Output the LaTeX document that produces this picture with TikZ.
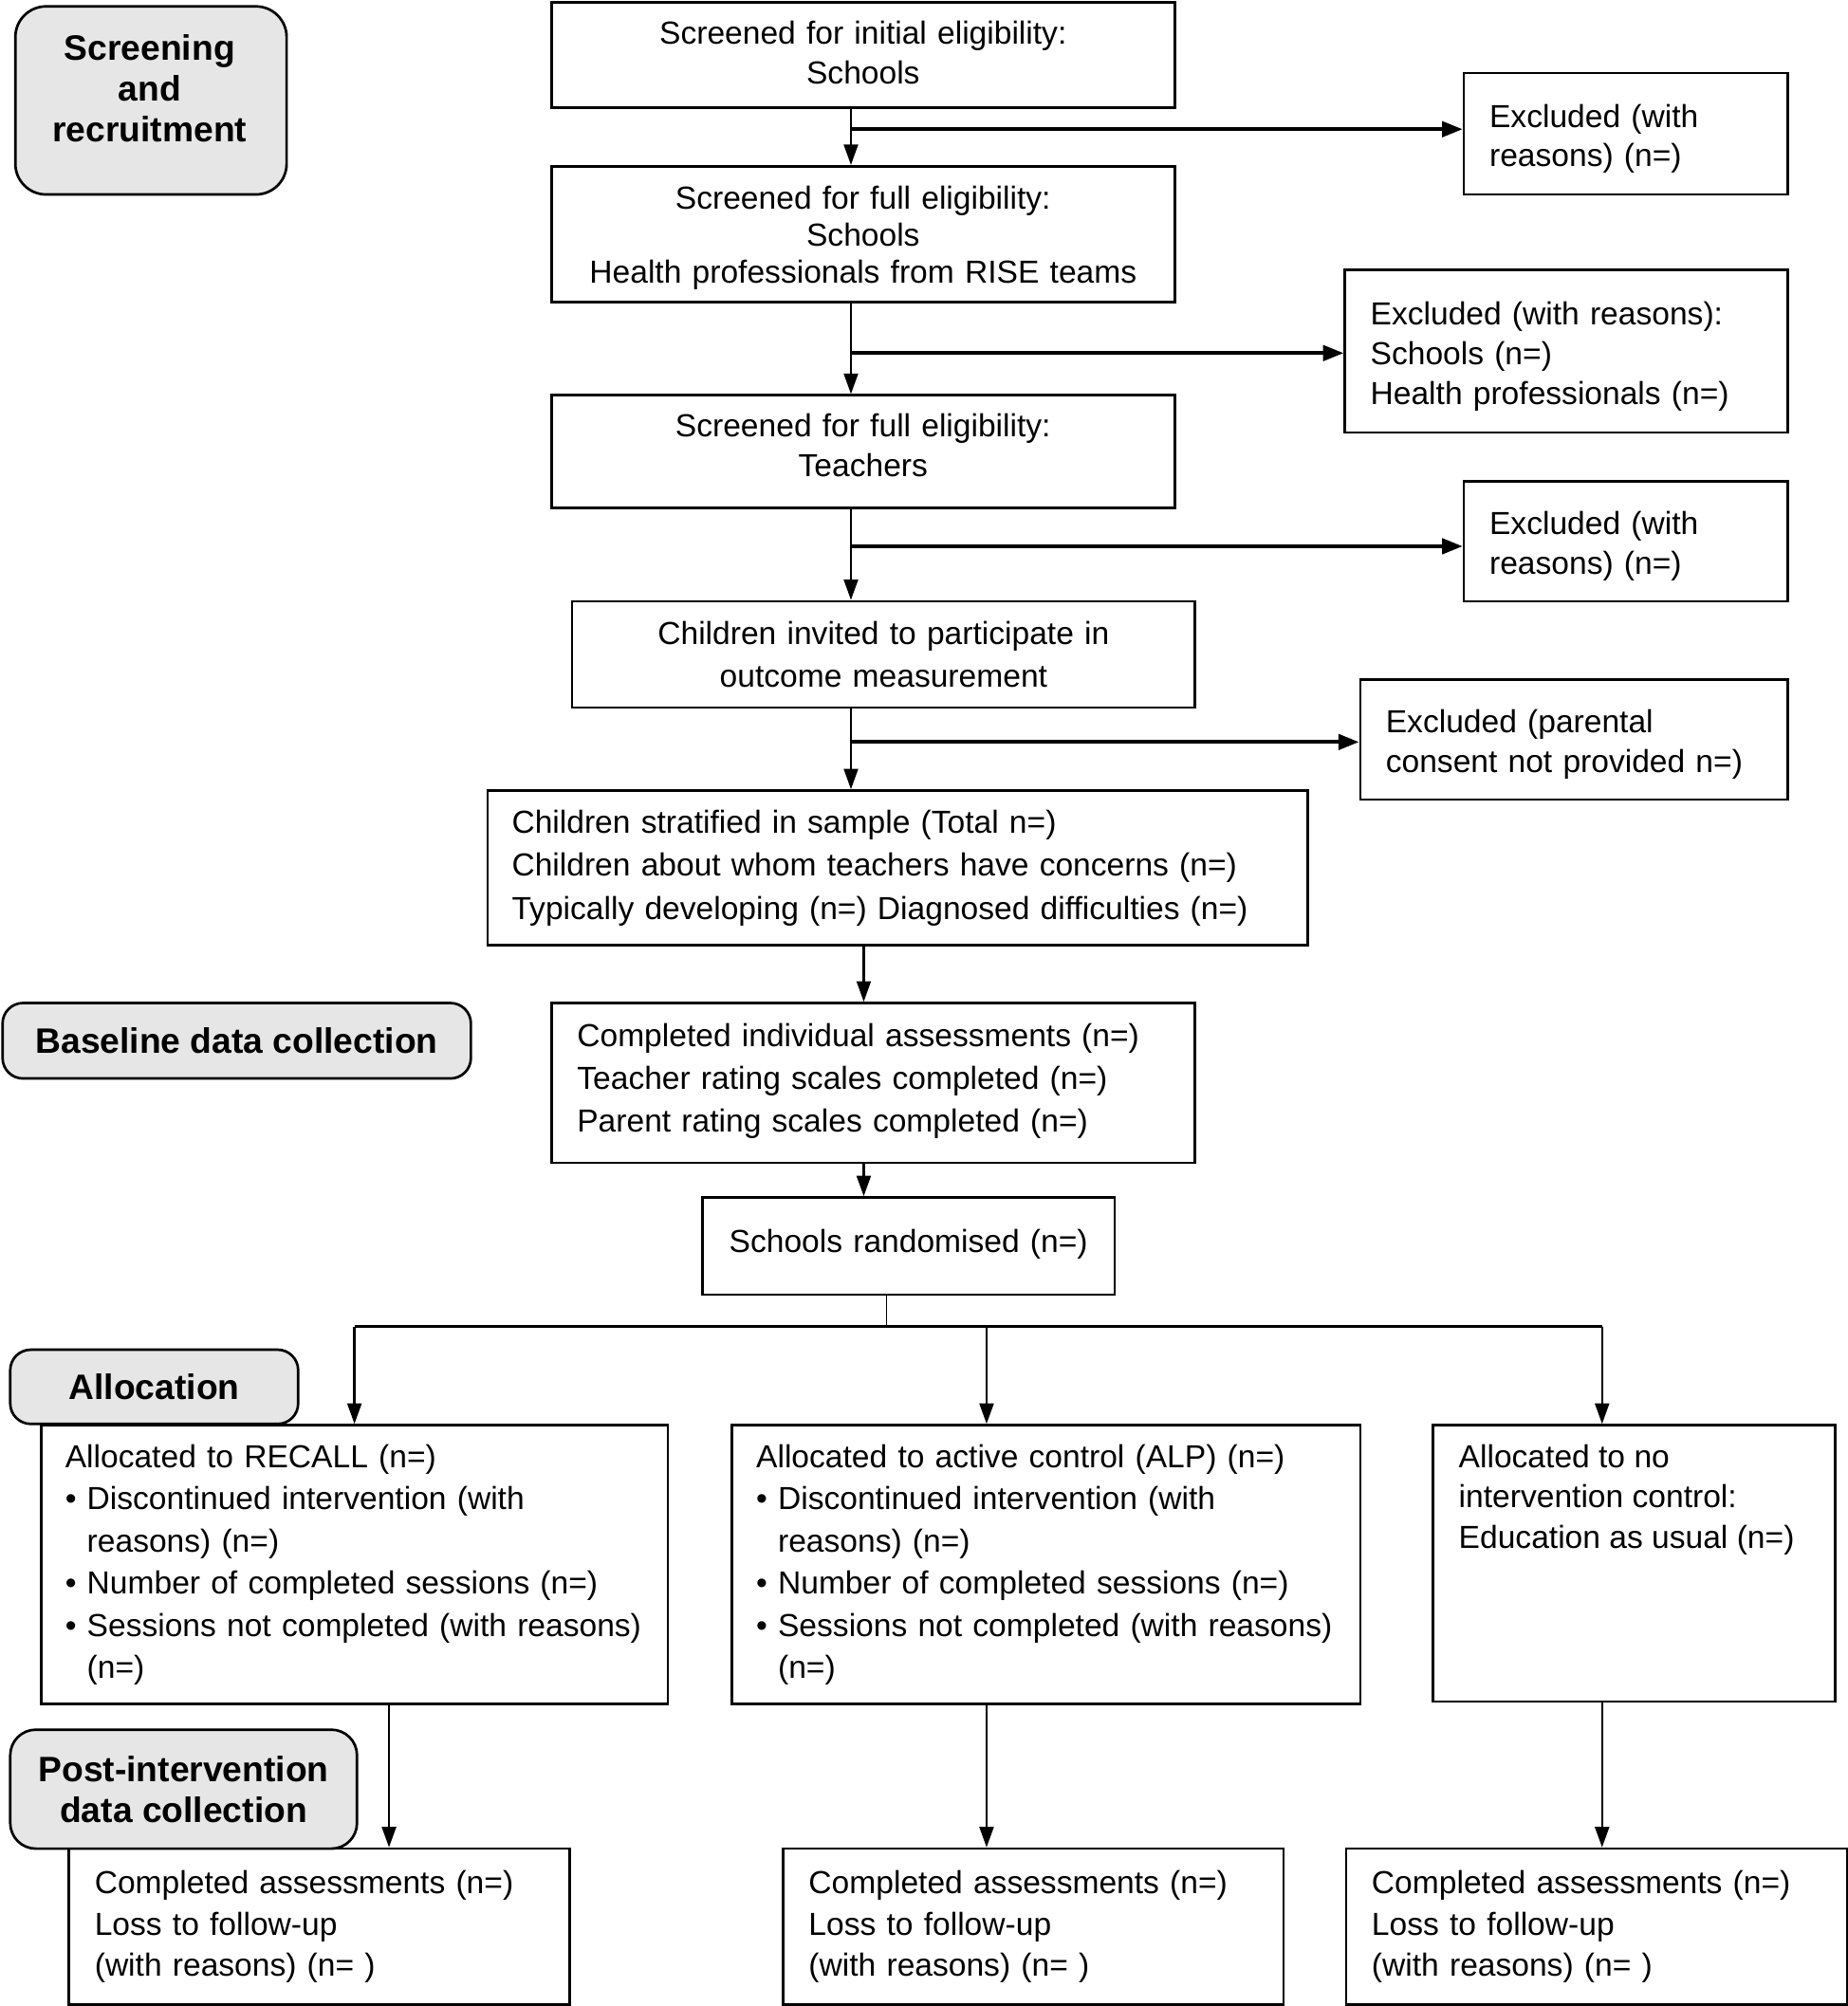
\documentclass[tikz,border=0pt]{standalone}
\usepackage{fontspec}
\setmainfont{Liberation Sans}
\usetikzlibrary{arrows.meta}
\definecolor{labgray}{RGB}{230,230,230}
\newcommand\topstrut{\rule{0pt}{13pt}}
\begin{document}
\begin{tikzpicture}[x=0.5pt,y=-0.5pt,
  box/.style={draw, line width=1pt, anchor=north west, inner xsep=10pt, inner ysep=0pt},
  ls/.style={font=\fontsize{12.45}{#1}\selectfont},
  cbox/.style={box, align=center},
  lbox/.style={box, align=left},
  lab/.style={draw, line width=1pt, fill=labgray, rounded corners=8pt, anchor=north west, inner sep=0pt, align=center, font=\bfseries\fontsize{13.8}{16}\selectfont},
  arr/.style={line width=0.9pt, -{Triangle[length=8pt,width=5.5pt]}},
  harr/.style={line width=1.4pt, -{Triangle[length=8pt,width=6pt]}},
  treeline/.style={line width=1pt},
  thinline/.style={line width=0.5pt}]
\useasboundingbox (0,0) rectangle (1444,1568);

% main column
\node[cbox, ls=15.5pt, minimum width=243.5pt, minimum height=41pt, text width=223.5pt] (b1) at (430,1)
  {Screened for initial eligibility:\\Schools\rule[-2pt]{0pt}{0pt}};
\node[cbox, ls=14.5pt, minimum width=243.5pt, minimum height=53pt, text width=223.5pt] (b2) at (430,129)
  {\rule{0pt}{12pt}Screened for full eligibility:\\Schools\\\mbox{Health professionals from RISE teams}};
\node[cbox, ls=15.5pt, minimum width=243.5pt, minimum height=44pt, text width=223.5pt] (b3) at (430,308)
  {Screened for full eligibility:\\Teachers\rule[-5pt]{0pt}{0pt}};
\node[cbox, ls=16.5pt, minimum width=243.5pt, minimum height=41.5pt, text width=223.5pt] (b4) at (446,469)
  {Children invited to participate in\\outcome measurement};
\node[lbox, ls=16.75pt, inner xsep=9.5pt, minimum width=320.5pt, minimum height=60.5pt, text width=301.5pt] (b5) at (380,617)
  {\mbox{Children stratified in sample (Total n=)}\\\mbox{Children about whom teachers have concerns (n=)}\\\mbox{Typically developing (n=) Diagnosed difficulties (n=)}};
\node[lbox, ls=16.75pt, minimum width=251.5pt, minimum height=62.5pt, text width=231.5pt] (b6) at (430,783)
  {\mbox{Completed individual assessments (n=)}\\\mbox{Teacher rating scales completed (n=)}\\\mbox{Parent rating scales completed (n=)}\rule[-4pt]{0pt}{0pt}};
\node[cbox, ls=16pt, minimum width=161pt, minimum height=38pt, text width=141pt] (b7) at (548,935)
  {\mbox{Schools randomised (n=)}\rule[-4pt]{0pt}{0pt}};

% exclusion boxes
\node[lbox, ls=15.5pt, minimum width=126.5pt, minimum height=47.5pt, text width=106.5pt] (e1) at (1143,56)
  {\topstrut Excluded (with\\reasons) (n=)};
\node[lbox, ls=15.5pt, minimum width=173pt, minimum height=63.5pt, text width=153pt] (e2) at (1050,210)
  {\topstrut\mbox{Excluded (with reasons):}\\Schools (n=)\\\mbox{Health professionals (n=)}};
\node[lbox, ls=15.5pt, minimum width=126.5pt, minimum height=47pt, text width=106.5pt] (e3) at (1143,375)
  {\topstrut Excluded (with\\reasons) (n=)};
\node[lbox, ls=15.5pt, minimum width=167pt, minimum height=47pt, text width=147pt] (e4) at (1062,530)
  {\topstrut Excluded (parental\\\mbox{consent not provided n=)}};

% allocation boxes
\node[lbox, ls=16.5pt, inner xsep=9.5pt, minimum width=245pt, minimum height=109pt, text width=226pt] (a) at (31,1113)
  {\mbox{Allocated to RECALL (n=)}\\
   \mbox{\makebox[8.5pt][l]{\textbullet}Discontinued intervention (with}\\
   \mbox{\hspace*{8.5pt}reasons) (n=)}\\
   \mbox{\makebox[8.5pt][l]{\textbullet}Number of completed sessions (n=)}\\
   \mbox{\makebox[8.5pt][l]{\textbullet}Sessions not completed (with reasons)}\\
   \mbox{\hspace*{8.5pt}(n=)}};
\node[lbox, ls=16.5pt, inner xsep=9.5pt, minimum width=245.5pt, minimum height=109pt, text width=226.5pt] (b) at (571,1113)
  {\mbox{Allocated to active control (ALP) (n=)}\\
   \mbox{\makebox[8.5pt][l]{\textbullet}Discontinued intervention (with}\\
   \mbox{\hspace*{8.5pt}reasons) (n=)}\\
   \mbox{\makebox[8.5pt][l]{\textbullet}Number of completed sessions (n=)}\\
   \mbox{\makebox[8.5pt][l]{\textbullet}Sessions not completed (with reasons)}\\
   \mbox{\hspace*{8.5pt}(n=)}};
\node[box, minimum width=157pt, minimum height=108pt] (c) at (1119,1113)
  {\parbox[c][108pt][t]{137pt}{\fontsize{12.45}{15.75}\selectfont\vspace*{7.5pt}Allocated to no\\intervention control:\\\mbox{Education as usual (n=)}}};

% post-intervention boxes
\node[lbox, ls=16pt, minimum width=195.5pt, minimum height=61pt, text width=175.5pt] (d1) at (53,1444)
  {\mbox{Completed assessments (n=)}\\Loss to follow-up\\(with reasons) (n=~)};
\node[lbox, ls=16pt, minimum width=195.5pt, minimum height=61pt, text width=175.5pt] (d2) at (611,1444)
  {\mbox{Completed assessments (n=)}\\Loss to follow-up\\(with reasons) (n=~)};
\node[lbox, ls=16pt, minimum width=196pt, minimum height=61pt, text width=176pt] (d3) at (1051,1444)
  {\mbox{Completed assessments (n=)}\\Loss to follow-up\\(with reasons) (n=~)};

% connectors
\coordinate (j1) at (665,101);
\coordinate (j2) at (665,276);
\coordinate (j3) at (665,427);
\coordinate (j4) at (665,580);
\draw[arr] (b1.south -| j1) -- (b2.north -| j1);
\draw[harr] (j1) -- (j1 -| e1.west);
\draw[arr] (b2.south -| j2) -- (b3.north -| j2);
\draw[harr] (j2) -- (j2 -| e2.west);
\draw[arr] (b3.south -| j3) -- (b4.north -| j3);
\draw[harr] (j3) -- (j3 -| e3.west);
\draw[arr] (b4.south -| j4) -- (b5.north -| j4);
\draw[harr] (j4) -- (j4 -| e4.west);

\coordinate (x5) at (675,0);
\draw[arr] (b5.south -| x5) -- (b6.north -| x5);
\draw[arr] (b6.south -| x5) -- (b7.north -| x5);

\coordinate (t0) at (693,1037);
\coordinate (tA) at (277,1037);
\coordinate (tB) at (771,1037);
\coordinate (tC) at (1252,1037);
\draw[thinline] (b7.south -| t0) -- (t0);
\draw[treeline] (tA) -- (tC);
\draw[arr] (tA) -- (tA |- a.north);
\draw[arr] (tB) -- (tB |- b.north);
\draw[arr] (tC) -- (tC |- c.north);

\coordinate (xa) at (304,0);
\coordinate (xb) at (771,0);
\coordinate (xc) at (1252,0);
\draw[arr] (a.south -| xa) -- (d1.north -| xa);
\draw[arr] (b.south -| xb) -- (d2.north -| xb);
\draw[arr] (c.south -| xc) -- (d3.north -| xc);

% phase labels
\node[lab, rounded corners=12pt, minimum width=106pt, minimum height=73.5pt] (l1) at (11,4) {};
\node[align=center, inner sep=0pt, font=\bfseries\fontsize{13.8}{16}\selectfont] (l1t) at (117,69) {Screening\\and\\recruitment};
\node[lab, minimum width=183pt, minimum height=29.5pt] (l2) at (1,783) {Baseline data collection};
\node[lab, minimum width=112.5pt, minimum height=29pt] (l3) at (7,1054) {Allocation};
\node[lab, rounded corners=10pt, minimum width=135.5pt, minimum height=46.5pt] (l4) at (7,1351) {Post-intervention\\data collection};
\end{tikzpicture}
\end{document}
